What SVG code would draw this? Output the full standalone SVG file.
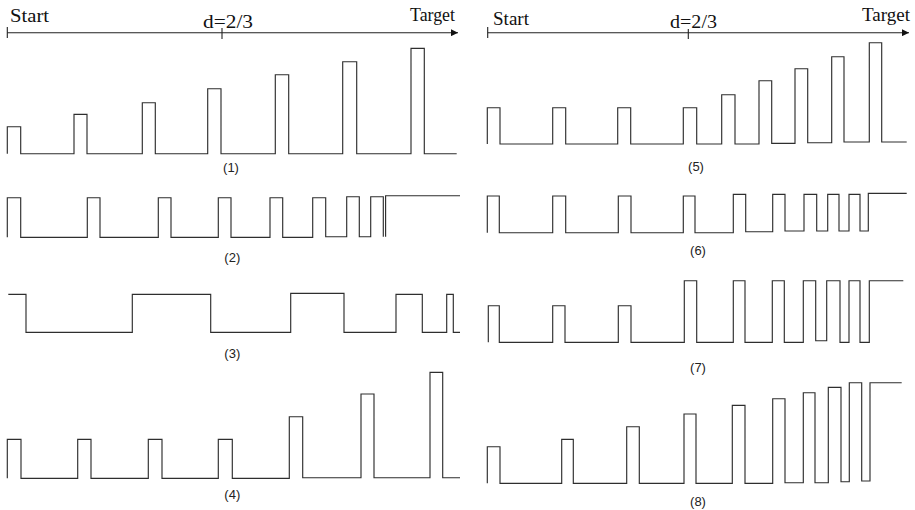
<svg xmlns="http://www.w3.org/2000/svg" width="915" height="510" viewBox="0 0 915 510">
  <style>
    .wave { fill: none; stroke: #2e2e2e; stroke-width: 1.15; stroke-linejoin: miter; }
    .axis { fill: none; stroke: #222; stroke-width: 1.1; }
    .serif { font-family: "Liberation Serif", "Times New Roman", serif; font-size: 18px; fill: #111; }
    .cap { font-family: "Liberation Sans", Arial, sans-serif; font-size: 13px; fill: #222; text-anchor: middle; }
  </style>
  <defs>
    <marker id="arrow" viewBox="0 0 10 10" refX="10" refY="5" markerWidth="7" markerHeight="7" markerUnits="userSpaceOnUse" orient="auto">
      <path d="M0,0 L10,5 L0,10 Z" fill="#111"/>
    </marker>
  </defs>

  <!-- distance axes: start to target with the d=2/3 mark -->
  <g id="axis-left">
    <line class="axis" x1="7.3" y1="32.7" x2="458" y2="32.7" marker-end="url(#arrow)"/>
    <line class="axis" x1="7.3" y1="27" x2="7.3" y2="38"/>
    <line class="axis" x1="222" y1="28" x2="222" y2="39"/>
    <text class="serif" x="10" y="22" textLength="39" lengthAdjust="spacingAndGlyphs">Start</text>
    <text class="serif" x="203" y="28" textLength="50" lengthAdjust="spacingAndGlyphs">d=2/3</text>
    <text class="serif" x="410" y="21" textLength="45" lengthAdjust="spacingAndGlyphs">Target</text>
  </g>
  <g id="axis-right">
    <line class="axis" x1="487.7" y1="32.7" x2="909" y2="32.7" marker-end="url(#arrow)"/>
    <line class="axis" x1="487.7" y1="27" x2="487.7" y2="38"/>
    <line class="axis" x1="688.3" y1="29" x2="688.3" y2="39"/>
    <text class="serif" x="493" y="25" textLength="36" lengthAdjust="spacingAndGlyphs">Start</text>
    <text class="serif" x="670" y="28" textLength="47" lengthAdjust="spacingAndGlyphs">d=2/3</text>
    <text class="serif" x="862" y="21" textLength="48" lengthAdjust="spacingAndGlyphs">Target</text>
  </g>

  <!-- (1) pulses of growing height, fixed spacing -->
  <g id="wave-1">
    <path class="wave" d="M7.3,153.7 V126.7 H20.7 V153.7 H74 V114.3 H87 V153.7 H142.3 V102.7 H155.3 V153.7 H207.7 V88.7 H221 V153.7 H275.3 V74.7 H288.7 V153.7 H342.7 V61.7 H356.7 V153.7 H411 V48.3 H424.3 V153.7 H456.7"/>
    <text class="cap" x="231" y="172">(1)</text>
  </g>

  <!-- (2) equal pulses, gaps shrinking towards the target -->
  <g id="wave-2">
    <path class="wave" d="M7.3,237.3 V197.7 H20.7 V237.3 H87.3 V197.7 H100 V237.3 H158.3 V197.7 H171 V237.3 H218.3 V197.7 H231 V237.3 H270 V197.7 H282.7 V237.3 H312.7 V197.7 H325.7 V236.7 H346.7 V196.7 H359.3 V236.7 H370.7 V196.7 H383.3 V236.7 M385.6,236.7 V195.7 H460"/>
    <text class="cap" x="232.3" y="262">(2)</text>
  </g>

  <!-- (3) long levels, shortening towards the target -->
  <g id="wave-3">
    <path class="wave" d="M8.3,294.3 H26 V332.3 H132.3 V294.3 H210.7 V332.3 H290.7 V293.3 H344 V332.3 H396 V294.3 H422.3 V332.3 H446.7 V294.3 H453.3 V332.3 H460"/>
    <text class="cap" x="232.3" y="358">(3)</text>
  </g>

  <!-- (4) constant pulses until d=2/3, then growing -->
  <g id="wave-4">
    <path class="wave" d="M7.3,478.3 V439.3 H21 V478.3 H77.7 V439.3 H91 V478.3 H148.3 V439.3 H162 V478.3 H218.3 V439.3 H232.3 V478.3 H289.3 V416.7 H302.7 V477.7 H361 V394 H374 V477.7 H430 V372.3 H442.7 V477.7 H460"/>
    <text class="cap" x="232.3" y="499">(4)</text>
  </g>

  <!-- (5) constant pulses until d=2/3, then growing with shorter gaps -->
  <g id="wave-5">
    <path class="wave" d="M487.3,144 V107.7 H500 V144 H552.7 V107.7 H565.7 V144 H617.7 V107.7 H630.7 V144 H683.3 V107.7 H696.7 V144 H721.7 V94.7 H735 V144 H759 V80.7 H771.7 V143.3 H795 V68.7 H807.7 V142.7 H831.7 V56.7 H844 V142 H869.3 V42.7 H881.7 V142 H906.7"/>
    <text class="cap" x="696" y="171">(5)</text>
  </g>

  <!-- (6) constant pulses until d=2/3, then gaps shrinking -->
  <g id="wave-6">
    <path class="wave" d="M487.3,232.7 V196 H499.3 V232.7 H552.7 V196 H565.7 V232.7 H618.3 V196 H631 V232.7 H683.3 V196 H695 V232.7 H733.3 V194.3 H745.7 V231.7 H772.7 V194.3 H785 V231 H804 V194.3 H816.7 V231 H827.7 V194.3 H839 V231 H849 V194.3 H860 V231 H868.3 V193.3 H906.7"/>
    <text class="cap" x="698" y="255">(6)</text>
  </g>

  <!-- (7) low pulses until d=2/3, then high pulses with shrinking gaps -->
  <g id="wave-7">
    <path class="wave" d="M488.3,342.3 V305.7 H499.3 V342.3 H552.7 V305.7 H565 V342.3 H618.3 V305.7 H631 V342.3 H684.3 V280.7 H696.7 V342.3 H733.3 V280.7 H745 V342.3 H772.3 V280.7 H784.3 V342.3 H803.3 V280.7 H815.7 V340.7 H826.7 V280.7 H840 V342.3 H849 V280.7 H860 V342.3 H869.3 V280.7 H903.3"/>
    <text class="cap" x="698" y="372">(7)</text>
  </g>

  <!-- (8) growing pulses with shrinking gaps -->
  <g id="wave-8">
    <path class="wave" d="M487.3,483.3 V446.7 H500 V483.3 H561.7 V439.3 H573.3 V483.3 H626.7 V426.7 H639.3 V483.3 H684 V414 H696 V483.3 H732.3 V405.3 H745 V483.3 H772.7 V398.7 H785 V482.7 H803.3 V392.7 H815 V482.7 H828.3 V387.3 H841 V481.7 H849.3 V382.7 H861.7 V481 H870 V382.7 H901.7"/>
    <text class="cap" x="698" y="506">(8)</text>
  </g>
</svg>
